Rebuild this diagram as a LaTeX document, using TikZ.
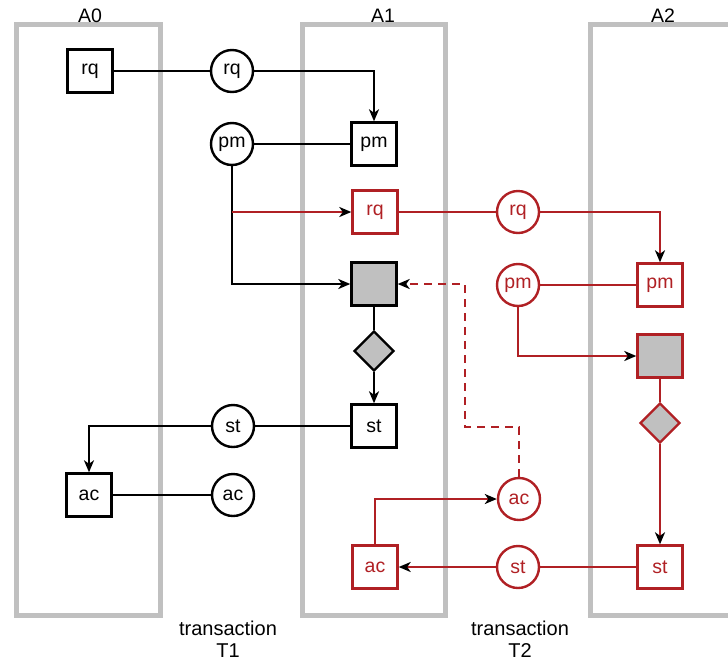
\documentclass[tikz,border=0pt]{standalone}
\usepackage{fontspec}
\setmainfont{Liberation Sans}
\usetikzlibrary{arrows.meta,shapes.geometric}
\definecolor{tred}{RGB}{176,32,36}
\definecolor{lanegray}{RGB}{192,192,192}
\definecolor{fillgray}{RGB}{192,192,192}
\tikzset{
  lane/.style={draw=lanegray,line width=5pt},
  lanelabel/.style={anchor=base,font=\fontsize{19.5}{22}\selectfont},
  act/.style={draw,line width=2.4pt,fill=white,minimum width=45pt,minimum height=43pt,inner sep=0pt,font=\fontsize{19.5}{22}\selectfont},
  tact/.style={act,draw=tred,text=tred},
  gact/.style={act,fill=fillgray},
  tgact/.style={tact,fill=fillgray},
  cond/.style={diamond,draw,line width=2.4pt,fill=fillgray,minimum width=40pt,minimum height=40pt,inner sep=0pt},
  tcond/.style={cond,draw=tred},
  msg/.style={circle,draw,line width=2.4pt,fill=white,minimum size=42pt,inner sep=0pt,font=\fontsize{19.5}{22}\selectfont},
  tmsg/.style={msg,draw=tred,text=tred},
  link/.style={line width=2.2pt},
  tlink/.style={link,draw=tred},
  arr/.style={-{Stealth[length=12pt,width=10pt,inset=3.5pt,color=black]}},
  tdash/.style={tlink,dash pattern=on 8pt off 6pt},
  caption/.style={align=center,font=\fontsize{20}{22.5}\selectfont}
}
\begin{document}
\begin{tikzpicture}[x=1pt,y=-1pt]
\useasboundingbox (0,0) rectangle (728,662);
\clip (0,0) rectangle (728,662);
% lanes
\draw[lane] (16,24) rectangle (160,615);
\draw[lane] (302,24) rectangle (445,615);
\draw[lane] (590,24) rectangle (736,615);
\node[lanelabel] (lA0) at (90,22) {A0};
\node[lanelabel] (lA1) at (383,22) {A1};
\node[lanelabel] (lA2) at (663,22) {A2};
% transaction T1 (black)
\node[act] (rq0) at (90,71) {rq};
\node[msg] (crq1) at (232,71) {rq};
\node[act] (pm1) at (374,144) {pm};
\node[msg] (cpm1) at (232,144) {pm};
\node[gact] (g1) at (374,284) {};
\node[cond] (d1) at (374,351) {};
\node[act] (st1) at (374,426) {st};
\node[msg] (cst1) at (233,426) {st};
\node[act] (ac0) at (89,495) {ac};
\node[msg] (cac1) at (233,495) {ac};
% transaction T2 (red)
\node[tact] (rq1) at (375,212) {rq};
\node[tmsg] (crq2) at (518,212) {rq};
\node[tact] (pm2) at (660,285) {pm};
\node[tmsg] (cpm2) at (518,285) {pm};
\node[tgact] (g2) at (660,356) {};
\node[tcond] (d2) at (660,423) {};
\node[tact] (st2) at (660,567) {st};
\node[tmsg] (cst2) at (518,567) {st};
\node[tact] (ac1) at (375,567) {ac};
\node[tmsg] (cac2) at (519,499) {ac};
\coordinate (br) at (232,212);
\coordinate (k1) at (465,427);
% captions
\node[caption] (t1) at (228,639) {transaction\\T1};
\node[caption] (t2) at (520,639) {transaction\\T2};
% T1 connectors
\draw[link] (rq0) -- (crq1);
\draw[link,arr] (crq1) -| (pm1);
\draw[link] (cpm1) -- (pm1);
\draw[link,arr] (cpm1) |- (g1);
\draw[link] (g1) -- (d1);
\draw[link,arr] (d1) -- (st1);
\draw[link] (st1) -- (cst1);
\draw[link,arr] (cst1) -| (ac0);
\draw[link] (ac0) -- (cac1);
% T2 connectors
\draw[tlink,arr] (br) -- (rq1);
\draw[tlink] (rq1) -- (crq2);
\draw[tlink,arr] (crq2) -| (pm2);
\draw[tlink] (cpm2) -- (pm2);
\draw[tlink,arr] (cpm2) |- (g2);
\draw[tlink] (g2) -- (d2);
\draw[tlink,arr] (d2) -- (st2);
\draw[tlink] (st2) -- (cst2);
\draw[tlink,arr] (cst2) -- (ac1);
\draw[tlink,arr] (ac1) |- (cac2);
\draw[tdash,arr] (cac2) |- (k1) |- (g1);
\end{tikzpicture}
\end{document}
